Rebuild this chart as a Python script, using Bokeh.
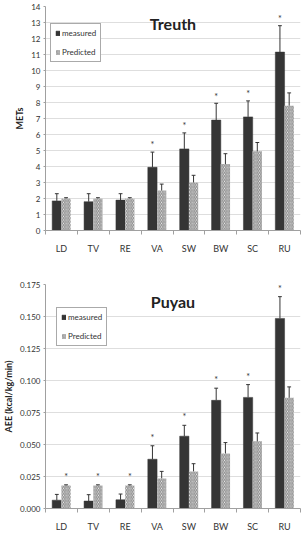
import numpy as np
from bokeh.plotting import figure
from bokeh.layouts import column
from bokeh.models import (ColumnDataSource, FixedTicker, Legend, LegendItem, Label,
                          Range1d, NumeralTickFormatter)
from bokeh.embed import file_html
from bokeh.resources import INLINE
from bokeh.core.properties import value

# Activity categories
categories = ["LD", "TV", "RE", "VA", "SW", "BW", "SC", "RU"]

# Treuth equation: METs (mean and upper SD)
treuth_measured = [1.85, 1.8, 1.9, 3.95, 5.1, 6.9, 7.1, 11.15]
treuth_measured_sd = [0.45, 0.5, 0.4, 0.95, 1.0, 1.05, 1.0, 1.65]
treuth_predicted = [2.0, 2.0, 2.0, 2.5, 3.0, 4.15, 4.95, 7.8]
treuth_predicted_sd = [0.05, 0.05, 0.05, 0.4, 0.45, 0.65, 0.55, 0.8]
# which bar of each pair carries the significance mark ("m", "p" or "")
treuth_signif = ["", "", "", "m", "m", "m", "m", "m"]

# Puyau equation: AEE in kcal/kg/min (mean and upper SD)
puyau_measured = [0.0065, 0.0058, 0.0068, 0.0385, 0.0565, 0.0845, 0.0868, 0.1485]
puyau_measured_sd = [0.0045, 0.005, 0.0045, 0.0105, 0.0085, 0.0095, 0.0100, 0.0170]
puyau_predicted = [0.018, 0.018, 0.018, 0.0235, 0.029, 0.043, 0.0525, 0.0865]
puyau_predicted_sd = [0.0005, 0.0005, 0.0005, 0.0055, 0.006, 0.0085, 0.0065, 0.0085]
puyau_signif = ["p", "p", "p", "m", "m", "m", "m", "m"]

FONT = "Lato"
DARK = "#353535"
HATCH = "#8c8c8c"
BAR_W = 0.29


def bar_panel(title, ylabel, measured, measured_sd, predicted, predicted_sd, signif,
              ymax, ystep, fmt, star_pad, height, borders, legend_xy):
    centers = np.arange(len(categories)) + 0.5
    p = figure(width=303, height=height, x_range=Range1d(0, len(categories)),
               y_range=Range1d(0, ymax), output_backend="svg", toolbar_location=None,
               min_border_left=borders[0], min_border_right=borders[1],
               min_border_top=borders[2], min_border_bottom=borders[3])
    p.outline_line_color = None
    p.background_fill_color = "white"
    p.border_fill_color = "white"

    m_src = ColumnDataSource(dict(x=centers - BAR_W / 2, top=measured))
    p_src = ColumnDataSource(dict(x=centers + BAR_W / 2, top=predicted))
    r_m = p.vbar(x="x", top="top", width=BAR_W, source=m_src, fill_color=DARK,
                 line_color=DARK, line_width=0.5)
    r_p = p.vbar(x="x", top="top", width=BAR_W, source=p_src, fill_color="white",
                 line_color=None, hatch_pattern="\\", hatch_color=HATCH,
                 hatch_scale=3.5, hatch_weight=1.2)

    # upward SD whiskers with small caps
    for xs, vals, sds in ((centers - BAR_W / 2, measured, measured_sd),
                          (centers + BAR_W / 2, predicted, predicted_sd)):
        vals = np.asarray(vals)
        tops = vals + np.asarray(sds)
        p.segment(x0=xs, y0=vals, x1=xs, y1=tops, line_color=DARK, line_width=1)
        p.segment(x0=xs - 0.06, y0=tops, x1=xs + 0.06, y1=tops, line_color=DARK,
                  line_width=1)

    # significance asterisks
    sx, sy = [], []
    for i, s in enumerate(signif):
        if s == "m":
            sx.append(centers[i] - BAR_W / 2)
            sy.append(measured[i] + measured_sd[i] + star_pad)
        elif s == "p":
            sx.append(centers[i] + BAR_W / 2)
            sy.append(predicted[i] + predicted_sd[i] + star_pad)
    p.text(x=sx, y=sy, text=["*"] * len(sx), text_font=value(FONT),
           text_font_size="9px", text_align="center", text_baseline="middle",
           text_color=DARK)

    # axes
    ticks = list(np.round(np.arange(0, ymax + ystep / 2, ystep), 6))
    p.yaxis.ticker = FixedTicker(ticks=ticks)
    p.yaxis.formatter = NumeralTickFormatter(format=fmt)
    p.xaxis.ticker = FixedTicker(ticks=list(centers),
                                 minor_ticks=list(range(len(categories) + 1)))
    p.xaxis.major_label_overrides = {float(c): n for c, n in zip(centers, categories)}
    for ax in (p.xaxis[0], p.yaxis[0]):
        ax.axis_line_color = "#a0a0a0"
        ax.major_tick_line_color = "#a0a0a0"
        ax.minor_tick_line_color = "#a0a0a0"
        ax.major_label_text_font = FONT
        ax.major_label_text_color = "#333333"
        ax.axis_label_text_font = FONT
    p.xaxis.major_tick_out = 0
    p.xaxis.major_tick_in = 0
    p.xaxis.minor_tick_out = 4
    p.xaxis.minor_tick_in = 0
    p.xaxis.major_label_standoff = 8
    p.xaxis.major_label_text_font_size = "9px"
    p.yaxis.major_tick_out = 2
    p.yaxis.major_tick_in = 0
    p.yaxis.minor_tick_line_color = None
    p.yaxis.major_label_standoff = 3
    p.yaxis.major_label_text_font_size = "8px"
    p.yaxis.axis_label = ylabel
    p.yaxis.axis_label_text_font_size = "9px"
    p.yaxis.axis_label_text_font_style = "bold"
    p.yaxis.axis_label_text_color = "#222222"
    p.yaxis.axis_label_standoff = 3
    p.xgrid.grid_line_color = None
    p.ygrid.grid_line_color = "#dedede"
    p.ygrid.ticker = FixedTicker(ticks=ticks)

    p.add_layout(Label(x=len(categories) / 2, y=ymax, y_offset=-7, text=title,
                       text_font=FONT, text_font_size="16px", text_font_style="bold",
                       text_align="center", text_baseline="top", text_color="#222222"))

    legend = Legend(items=[LegendItem(label="measured", renderers=[r_m]),
                           LegendItem(label="Predicted", renderers=[r_p])],
                    location=legend_xy, orientation="vertical")
    legend.border_line_color = "#555555"
    legend.border_line_width = 1
    legend.background_fill_alpha = 1
    legend.label_text_font = FONT
    legend.label_text_font_size = "8px"
    legend.label_text_color = "#333333"
    legend.glyph_width = 5
    legend.glyph_height = 6
    legend.label_height = 8
    legend.label_width = 20
    legend.label_standoff = 2
    legend.spacing = 9
    legend.padding = 4
    legend.margin = 0
    p.add_layout(legend)
    return p


top = bar_panel("Treuth", "METs", treuth_measured, treuth_measured_sd,
                treuth_predicted, treuth_predicted_sd, treuth_signif,
                14, 1, "0", 0.45, 265, (28, 3, 6, 35), (5, 168))
bottom = bar_panel("Puyau", "AEE (kcal/kg/min)", puyau_measured, puyau_measured_sd,
                   puyau_predicted, puyau_predicted_sd, puyau_signif,
                   0.175, 0.025, "0.000", 0.0065, 288, (37, 3, 19, 45), (11, 162))

layout = column(top, bottom, spacing=0)
open("out.html", "w").write(file_html(layout, INLINE))
